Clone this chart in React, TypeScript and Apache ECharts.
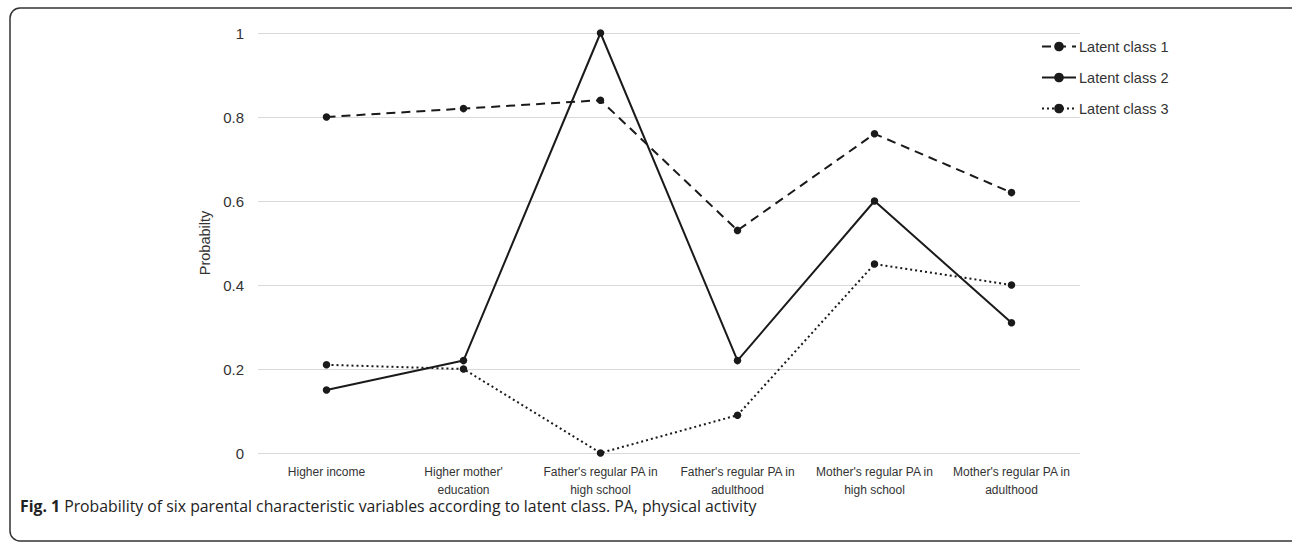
import React, { useEffect, useRef } from "react";
import * as echarts from "echarts";

const categories = [
  "Higher income",
  "Higher mother'\neducation",
  "Father's regular PA in\nhigh school",
  "Father's regular PA in\nadulthood",
  "Mother's regular PA in\nhigh school",
  "Mother's regular PA in\nadulthood",
];
const class1 = [0.8, 0.82, 0.84, 0.53, 0.76, 0.62];
const class2 = [0.15, 0.22, 1.0, 0.22, 0.6, 0.31];
const class3 = [0.21, 0.2, 0.0, 0.09, 0.45, 0.4];
const yTicks = { min: 0, max: 1, interval: 0.2 };

export default function App() {
  const ref = useRef<HTMLDivElement>(null);
  useEffect(() => {
    if (!ref.current) return;
    const chart = echarts.init(ref.current, null, { renderer: "svg" });
    const font = "'Liberation Sans', Arial, sans-serif";
    const lineColor = "#1a1a1a";
    const mk = (name: string, data: number[], type: any) => ({
      name,
      type: "line",
      data,
      symbol: "circle",
      symbolSize: 7.5,
      itemStyle: { color: lineColor },
      lineStyle: { color: lineColor, width: 2, type },
      emphasis: { disabled: true },
    });
    chart.setOption({
      animation: false,
      backgroundColor: "#ffffff",
      textStyle: { fontFamily: font },
      grid: { left: 258, right: 212, top: 33, bottom: 91, containLabel: false },
      legend: {
        orient: "vertical",
        left: 1036,
        top: 34,
        itemWidth: 34,
        itemHeight: 12,
        itemGap: 16,
        textStyle: { fontSize: 14.5, color: "#333", fontFamily: font, padding: [0, 0, 0, -2] },
        data: ["Latent class 1", "Latent class 2", "Latent class 3"],
      },
      xAxis: {
        type: "category",
        data: categories,
        boundaryGap: true,
        axisLine: { show: false },
        axisTick: { show: false },
        axisLabel: {
          fontSize: 12,
          color: "#333",
          fontFamily: font,
          margin: 10,
          lineHeight: 18,
          interval: 0,
        },
      },
      yAxis: {
        type: "value",
        min: yTicks.min,
        max: yTicks.max,
        interval: yTicks.interval,
        name: "Probabilty",
        nameLocation: "middle",
        nameGap: 46,
        nameTextStyle: { fontSize: 14.5, color: "#333", fontFamily: font },
        axisLine: { show: false },
        axisTick: { show: false },
        axisLabel: {
          fontSize: 15,
          color: "#333",
          fontFamily: font,
          margin: 14,
          formatter: (v: number) => String(Math.round(v * 10) / 10),
        },
        splitLine: { lineStyle: { color: "#d9d9d9", width: 1 } },
      },
      series: [
        mk("Latent class 1", class1, [9, 6]),
        mk("Latent class 2", class2, "solid"),
        mk("Latent class 3", class3, [2, 3]),
      ],
      graphic: [
        {
          type: "rect",
          shape: { x: 10, y: 8, width: 1300, height: 533, r: 10 },
          style: { fill: "none", stroke: "#333", lineWidth: 1.5 },
          silent: true,
        },
        {
          type: "text",
          left: 20,
          top: 498,
          style: {
            text: "{b|Fig. 1} Probability of six parental characteristic variables according to latent class. PA, physical activity",
            fontFamily: "'Open Sans', 'Noto Sans', sans-serif",
            fontSize: 15.8,
            fill: "#222",
            rich: {
              b: {
                fontWeight: "bold",
                fontFamily: "'Open Sans', 'Noto Sans', sans-serif",
                fontSize: 15.8,
                fill: "#222",
              },
            },
          },
        },
      ],
    });
    return () => chart.dispose();
  }, []);
  return (
    <div
      ref={ref}
      style={{ position: "fixed", left: 0, top: 0, width: 1292, height: 544 }}
    />
  );
}
